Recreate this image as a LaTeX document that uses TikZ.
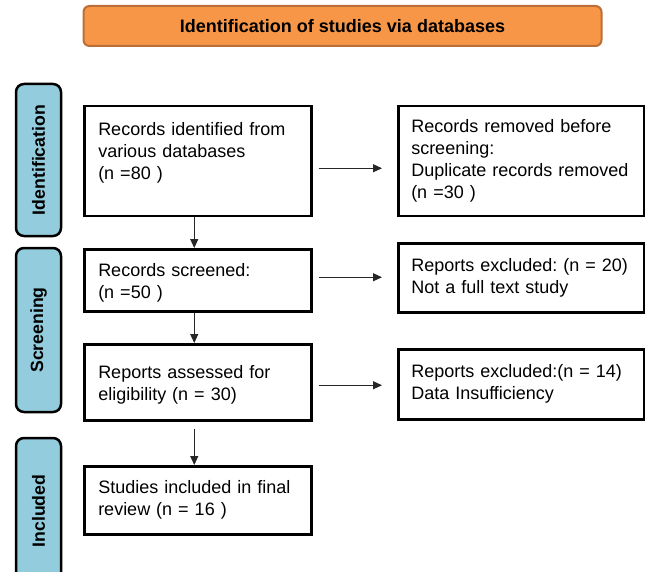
\documentclass[tikz,border=0pt]{standalone}
\usepackage{fontspec}
\setmainfont{Liberation Sans}
\usetikzlibrary{arrows.meta}
\frenchspacing

\definecolor{headorange}{HTML}{F79646}
\definecolor{headedge}{HTML}{BC6E38}
\definecolor{sideblue}{HTML}{93CDDD}

\tikzset{
  stagebox/.style={draw, line width=2.5pt, anchor=north west, align=left,
    inner xsep=14pt, inner ysep=0pt,
    font=\fontsize{18pt}{22pt}\selectfont},
  sidebar/.style={draw, line width=2.5pt, fill=sideblue, rounded corners=8pt,
    rotate=90, minimum height=45pt, inner sep=0pt,
    font=\fontsize{17.7pt}{20pt}\selectfont\bfseries},
  flow/.style={line width=1.1pt, black!85, -{Triangle[length=9pt,width=8pt]}}
}

\begin{document}
\begin{tikzpicture}[x=1pt,y=-1pt]
      \useasboundingbox (0,0) rectangle (645,572);
      \node[draw=headedge, line width=2pt, fill=headorange, rounded corners=6pt,
        minimum width=518pt, minimum height=40pt,
        font=\fontsize{18pt}{22pt}\selectfont\bfseries] (head) at (342.5,26)
        {Identification of studies via databases};

      \node[sidebar, minimum width=152pt] (ident) at (38.5,160) {Identification};
      \node[sidebar, minimum width=164pt] (screen) at (38.5,330) {Screening};
      \node[sidebar, minimum width=146pt] (incl) at (38.5,511) {Included};

      \node[stagebox, text width=199pt, minimum height=110pt, text depth=64pt] (found) at (83,105)
        {Records identified from\\various databases\\(n =80 )};
      \node[stagebox, text width=199pt, minimum height=62pt, text height=19pt] (screened) at (83,248)
        {Records screened:\\(n =50 )};
      \node[stagebox, text width=199pt, minimum height=76pt, text height=19pt] (assessed) at (83,343)
        {Reports assessed for\\eligibility (n = 30)};
      \node[stagebox, text width=199pt, minimum height=68pt] (included) at (83,465)
        {Studies included in final\\review (n = 16 )};

      \node[stagebox, inner xsep=13pt, text width=220pt, minimum height=110pt] (removed) at (397,105)
        {Records removed before\\screening:\\Duplicate records removed\\(n =30 )};
      \node[stagebox, inner xsep=13pt, text width=220pt, minimum height=69pt] (fulltext) at (397,242)
        {Reports excluded: (n = 20)\\Not a full text study};
      \node[stagebox, inner xsep=13pt, text width=220pt, minimum height=70pt] (insuff) at (397,348)
        {Reports excluded:(n = 14)\\Data Insufficiency};

      \draw[flow] ([xshift=-3.5pt]found.south) -- ([xshift=-3.5pt]screened.north);
      \draw[flow] ([xshift=-3.5pt]screened.south) -- ([xshift=-3.5pt]assessed.north);
      \draw[flow] ([shift={(-3.5pt,-7pt)}]assessed.south) -- ([xshift=-3.5pt]included.north);

      \draw[flow] ([shift={(6pt,-7pt)}]found.east) -- ([shift={(-15pt,-7pt)}]found.east -| removed.west);
      \draw[flow] ([shift={(6pt,3pt)}]screened.east) -- ([shift={(-15pt,3pt)}]screened.east -| fulltext.west);
      \draw[flow] ([shift={(6pt,-3pt)}]assessed.east) -- ([shift={(-15pt,-3pt)}]assessed.east -| insuff.west);
    \end{tikzpicture}
\end{document}
